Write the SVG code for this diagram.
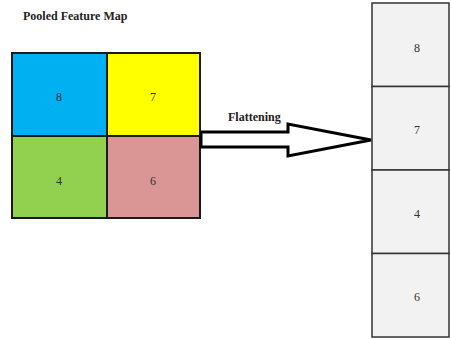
<svg xmlns="http://www.w3.org/2000/svg" width="451" height="339" viewBox="0 0 451 339">
<style>
.cell{stroke:#1a1a1a;stroke-width:2}
.box{fill:#f2f2f2;stroke:#333;stroke-width:1.5}
.num{font-family:"Liberation Serif",serif;font-size:12px;fill:#333;text-anchor:middle}
.title{font-family:"Liberation Serif",serif;font-size:12px;font-weight:bold;fill:#222}
</style>
<rect width="451" height="339" fill="#fff"/>
<text class="title" x="23" y="20">Pooled Feature Map</text>
<g id="cell-8"><rect class="cell" x="12" y="53" width="95" height="83" fill="#00b0f0"/><text class="num" x="59" y="101">8</text></g>
<g id="cell-7"><rect class="cell" x="107" y="53" width="93" height="83" fill="#ffff00"/><text class="num" x="153" y="101">7</text></g>
<g id="cell-4"><rect class="cell" x="12" y="136" width="95" height="82" fill="#92d050"/><text class="num" x="59" y="185">4</text></g>
<g id="cell-6"><rect class="cell" x="107" y="136" width="93" height="82" fill="#d99694"/><text class="num" x="153" y="185">6</text></g>
<g id="connectors">
<path d="M201,132 L288,132 L288,124 L371,140 L288,156 L288,147 L201,147 Z" fill="#fff" stroke="#000" stroke-width="3" stroke-linejoin="miter"/>
<text class="title" x="228" y="121">Flattening</text>
</g>
<g id="flat-8"><rect class="box" x="372" y="3" width="77" height="83.5"/><text class="num" x="417" y="52">8</text></g>
<g id="flat-7"><rect class="box" x="372" y="86.5" width="77" height="83.5"/><text class="num" x="417" y="134">7</text></g>
<g id="flat-4"><rect class="box" x="372" y="170" width="77" height="83.5"/><text class="num" x="417" y="218">4</text></g>
<g id="flat-6"><rect class="box" x="372" y="253.5" width="77" height="83.5"/><text class="num" x="417" y="301">6</text></g>
</svg>
